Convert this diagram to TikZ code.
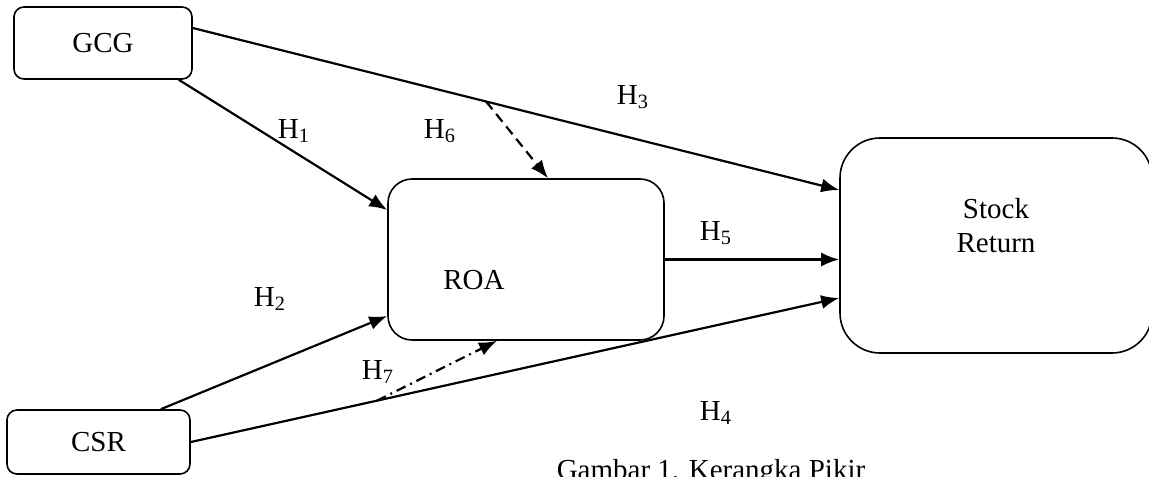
\documentclass[tikz,border=0pt]{standalone}
\usepackage{fontspec}
\setmainfont{Liberation Serif}
\usetikzlibrary{arrows.meta}

\begin{document}
\begin{tikzpicture}[x=0.5pt, y=-0.5pt,
		font=\fontsize{14.5}{17}\selectfont,
		box/.style={draw, rectangle, line width=0.8pt, inner sep=0pt},
		link/.style={line width=1.1pt, -{Latex[length=9pt, width=7pt]}},
		hlabel/.style={inner sep=0pt}]
				\useasboundingbox (0,0) rectangle (1149,476);
				\clip (0,0) rectangle (1149,476);
				\node[box, rounded corners=5pt, minimum width=89pt, minimum height=36pt] (GCG)at(103, 43) {GCG};
				\node[box, rounded corners=5pt, minimum width=91.5pt, minimum height=32pt] (CSR)at(98.5, 442) {CSR};
				\node[box, rounded corners=12pt, minimum width=138pt, minimum height=80.5pt] (ROA)at(526, 259.5) {};
				\node[hlabel] (ROAtxt)at(474, 280) {ROA};
				\node[box, rounded corners=20pt, minimum width=156pt, minimum height=107.5pt] (SR)at(996, 245.5) {};
				\node[hlabel, align=center] (SRtxt)at(996, 226) {Stock\\Return};
				% solid paths
				\draw[link] ([yshift=7.5pt]GCG.east) -- coordinate[pos=0.4537] (h6start) ([yshift=27.75pt]SR.west);
				\draw[link] ([xshift=-7pt]GCG.south east) -- ([yshift=24.75pt]ROA.west);
				\draw[link] ([xshift=-15pt]CSR.north east) -- ([yshift=-28.25pt]ROA.west);
				\draw[link] (CSR.east) -- coordinate[pos=0.287] (h7start) ([yshift=-26.25pt]SR.west);
				\draw[link] (ROA.east) -- (ROA.east -| SR.west);
				% dashed paths
				\draw[link, dashed, dash pattern=on 5pt off 3pt] (h6start) -- ([xshift=11pt]ROA.north);
				\draw[link, dash pattern=on 5pt off 2.5pt on 1pt off 2.5pt] (h7start) -- ([xshift=-14.5pt]ROA.south);
				% labels
				\node[hlabel] (H1)at(294, 131) {H\textsubscript{1}};
				\node[hlabel] (H2)at(270, 299) {H\textsubscript{2}};
				\node[hlabel] (H3)at(633, 97) {H\textsubscript{3}};
				\node[hlabel] (H4)at(716, 413) {H\textsubscript{4}};
				\node[hlabel] (H5)at(716, 233) {H\textsubscript{5}};
				\node[hlabel] (H6)at(440, 131) {H\textsubscript{6}};
				\node[hlabel] (H7)at(378, 372) {H\textsubscript{7}};
				\node[hlabel, anchor=base] (caption)at(711, 479) {Gambar 1. Kerangka Pikir};
			\end{tikzpicture}
\end{document}
